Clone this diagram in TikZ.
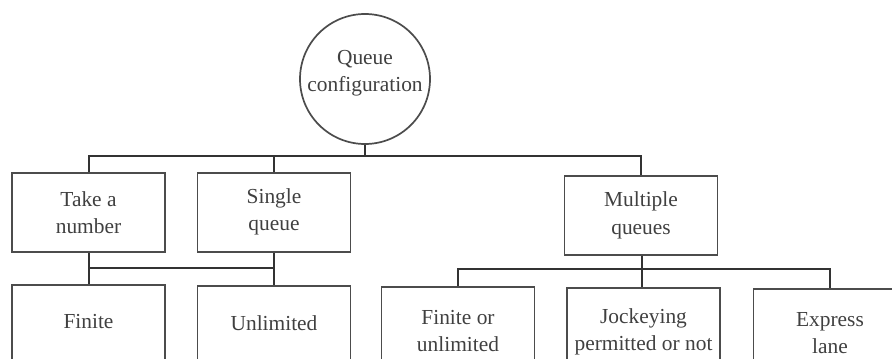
\documentclass[tikz,border=0pt]{standalone}
\usepackage{fontspec}
\setmainfont{Liberation Serif}
\begin{document}
\begin{tikzpicture}[x=0.5pt,y=-0.5pt,
  ink/.style={draw=black!80, line width=1pt},
  frame/.style={draw=black!70, line width=0.85pt},
  label text/.style={text=black!75, font=\fontsize{10.7pt}{13.5pt}\selectfont, align=center, inner sep=0pt},
  catbox/.style={frame, label text, rectangle, anchor=north, minimum width=76.5pt, minimum height=39.5pt},
  leafbox/.style={frame, label text, rectangle, anchor=north, minimum width=76.5pt, minimum height=44pt},
  oneline/.style={text depth=7pt},
  rootcircle/.style={frame, label text, circle, minimum size=65pt, text depth=8pt}]
  \useasboundingbox (0,0) rectangle (892,358);

  % root
  \node[rootcircle] (q) at (365,79) {Queue\\configuration};

  % first level
  \node[catbox] (take)   at (88.5,172) {Take a\\number};
  \node[catbox] (single) at (274,172)  {Single\\queue};
  \node[catbox] (multi)  at (641,175)  {Multiple\\queues};

  % second level (boxes run past the lower and right edges)
  \node[leafbox, oneline] (finite) at (88.5,284) {Finite};
  \node[leafbox, oneline] (unlim)  at (274,285)  {Unlimited};
  \node[leafbox] (fou)     at (458,286)   {Finite or\\unlimited};
  \node[leafbox] (jockey)  at (643.5,287) {Jockeying\\permitted or not};
  \node[leafbox] (express) at (830,288)   {Express\\lane};

  % bus lines
  \coordinate (bus)  at (365,156);
  \coordinate (busL) at (274,268);
  \coordinate (busR) at (642,269);

  \draw[ink] (q.south) -- (bus);
  \draw[ink] (take.north) |- (bus) -| (multi.north);
  \draw[ink] (single.north) -- (single.north |- bus);

  \draw[ink] (take.south) -- (finite.north);
  \draw[ink] (single.south) -- (unlim.north);
  \draw[ink] (take.south |- busL) -- (busL);

  \draw[ink] (busR |- multi.south) -- (busR |- jockey.north);
  \draw[ink] (fou.north) |- (busR) -| (express.north);
\end{tikzpicture}
\end{document}
